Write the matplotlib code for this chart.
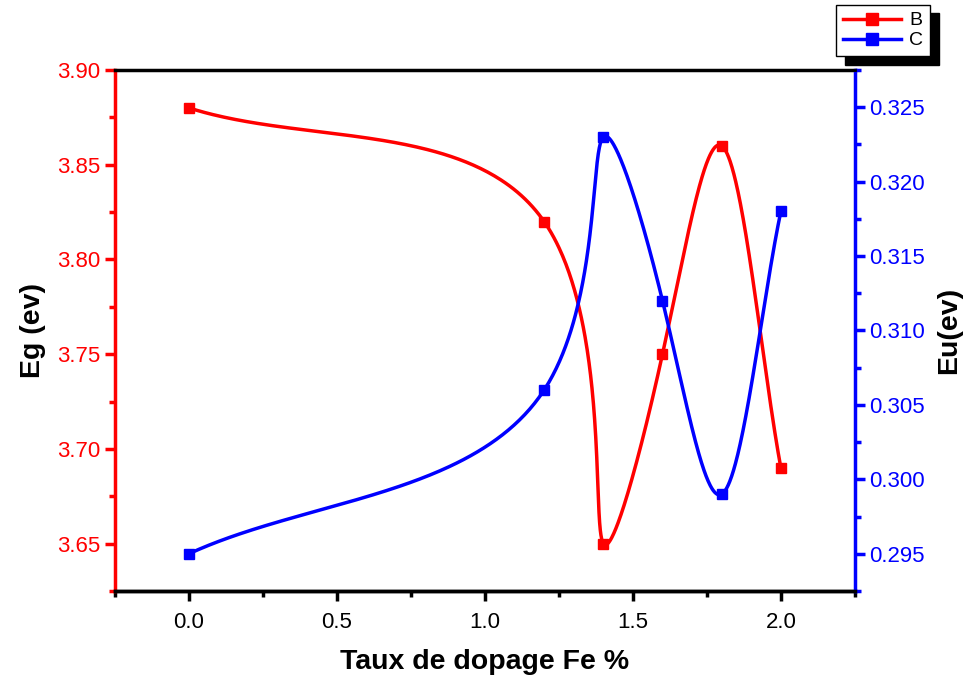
import numpy as np
import matplotlib.pyplot as plt
from matplotlib.ticker import MultipleLocator, FormatStrFormatter

plt.rcParams['font.family'] = ['Liberation Sans', 'DejaVu Sans']

# data
fe = [0.0, 1.2, 1.4, 1.6, 1.8, 2.0]
eg = [3.88, 3.82, 3.65, 3.75, 3.86, 3.69]
eu = [0.295, 0.306, 0.323, 0.312, 0.299, 0.318]

xlim = (-0.25, 2.25)
eg_lim = (3.625, 3.90)
eu_lim = (0.2925, 0.3275)


def spline(t, v, tt):
    # cubic spline of v(t), end slopes follow the end chords
    n = len(t)
    h = np.diff(t)
    A = np.zeros((n, n))
    r = np.zeros(n)
    A[0, 0], A[0, 1] = 2, 1
    A[-1, -2], A[-1, -1] = 1, 2
    for i in range(1, n - 1):
        A[i, i - 1] = h[i - 1]
        A[i, i] = 2 * (h[i - 1] + h[i])
        A[i, i + 1] = h[i]
        r[i] = 6 * ((v[i + 1] - v[i]) / h[i] - (v[i] - v[i - 1]) / h[i - 1])
    M = np.linalg.solve(A, r)
    k = np.clip(np.searchsorted(t, tt) - 1, 0, n - 2)
    a = t[k + 1] - tt
    b = tt - t[k]
    hk = h[k]
    return (M[k] * a**3 / (6 * hk) + M[k + 1] * b**3 / (6 * hk)
            + (v[k] / hk - M[k] * hk / 6) * a + (v[k + 1] / hk - M[k + 1] * hk / 6) * b)


def smooth(x, y, ylim, n=600):
    # centripetal parametric spline, measured in pixel-like units
    x = np.asarray(x, float)
    y = np.asarray(y, float)
    px = (x - xlim[0]) / (xlim[1] - xlim[0]) * 740
    py = (y - ylim[0]) / (ylim[1] - ylim[0]) * 521
    step = np.sqrt(np.hypot(np.diff(px), np.diff(py)))
    t = np.concatenate([[0], np.cumsum(step)])
    tt = np.linspace(0, t[-1], n)
    sx = spline(t, px, tt)
    sy = spline(t, py, tt)
    return (sx / 740 * (xlim[1] - xlim[0]) + xlim[0],
            sy / 521 * (ylim[1] - ylim[0]) + ylim[0])


fig = plt.figure(figsize=(9.67, 6.8), dpi=100)
ax = fig.add_axes([0.119, 0.131, 0.765, 0.766])
ax2 = ax.twinx()

xs, ys = smooth(fe, eg, eg_lim)
ax.plot(xs, ys, color='red', lw=2.5)
ax.plot(fe, eg, 's', color='red', ms=7)
xs, ys = smooth(fe, eu, eu_lim)
ax2.plot(xs, ys, color='blue', lw=2.5)
ax2.plot(fe, eu, 's', color='blue', ms=7)

# legend proxies
lb, = ax.plot([], [], '-s', color='red', lw=2.5, ms=8, label='B')
lc, = ax.plot([], [], '-s', color='blue', lw=2.5, ms=8, label='C')

ax.set_xlim(*xlim)
ax.set_ylim(*eg_lim)
ax2.set_ylim(*eu_lim)

ax.xaxis.set_major_locator(MultipleLocator(0.5))
ax.xaxis.set_minor_locator(MultipleLocator(0.25))
ax.xaxis.set_major_formatter(FormatStrFormatter('%.1f'))
ax.yaxis.set_major_locator(MultipleLocator(0.05))
ax.yaxis.set_minor_locator(MultipleLocator(0.025))
ax.yaxis.set_major_formatter(FormatStrFormatter('%.2f'))
ax2.yaxis.set_major_locator(MultipleLocator(0.005))
ax2.yaxis.set_minor_locator(MultipleLocator(0.0025))
ax2.yaxis.set_major_formatter(FormatStrFormatter('%.3f'))

for a in (ax, ax2):
    for s in a.spines.values():
        s.set_linewidth(2.5)
ax.spines['left'].set_color('red')
ax2.spines['left'].set_visible(False)
ax2.spines['right'].set_color('blue')
ax.spines['right'].set_visible(False)
ax2.spines['top'].set_linewidth(2)

ax.tick_params(axis='x', which='major', length=7, width=2.5, labelsize=16, pad=8)
ax.tick_params(axis='x', which='minor', length=4, width=2.5)
ax.tick_params(axis='y', which='major', length=7, width=2.5, colors='red', labelsize=16)
ax.tick_params(axis='y', which='minor', length=4, width=2.5, colors='red')
ax2.tick_params(axis='y', which='major', length=7, width=2.5, colors='blue', labelsize=16)
ax2.tick_params(axis='y', which='minor', length=4, width=2.5, colors='blue')

ax.set_xlabel('Taux de dopage Fe %', fontsize=20.5, fontweight='bold', labelpad=12)
ax.set_ylabel('Eg (ev)', fontsize=20.5, fontweight='bold', labelpad=8)
ax2.set_ylabel('Eu(ev)', fontsize=20.5, fontweight='bold', labelpad=8)

leg = fig.legend(handles=[lb, lc], loc='upper right', bbox_to_anchor=(0.9617, 0.9926),
                 borderaxespad=0, fontsize=14, handlelength=3.0, fancybox=False,
                 edgecolor='black', framealpha=1,
                 shadow={'color': 'black', 'alpha': 1, 'ox': 6.5, 'oy': -6},
                 borderpad=0.35, labelspacing=0.12, handletextpad=0.4)
leg.get_frame().set_linewidth(1)

fig.savefig('out.png', dpi=100)
